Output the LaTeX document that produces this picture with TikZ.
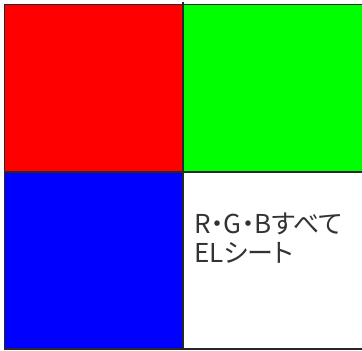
\documentclass[tikz,border=0pt]{standalone}
\usepackage{fontspec}
\newfontfamily\jpfont[RawFeature=+palt]{Noto Sans CJK JP}
\definecolor{elred}{RGB}{255,0,0}
\definecolor{elgreen}{RGB}{0,255,0}
\definecolor{elblue}{RGB}{0,0,255}
\definecolor{edge}{RGB}{40,40,40}
\tikzset{
  cell/.style={draw=edge, line width=1.4pt},
  label/.style={anchor=base west, inner sep=0pt, font=\jpfont\fontsize{26}{30}\selectfont, text=black!80}
}
\begin{document}
\begin{tikzpicture}[x=1pt,y=-1pt]
\useasboundingbox (0,0) rectangle (362,351);
\fill[white] (0,0) rectangle (362,351);
\filldraw[cell, fill=elred] (4.5,4.5) rectangle (183,172);
\filldraw[cell, fill=elgreen] (183,4.5) rectangle (364,172);
\filldraw[cell, fill=elblue] (4.5,172) rectangle (183,349);
\filldraw[cell, fill=white] (183,172) rectangle (364,349);
\draw[cell] (183,2) -- (183,5);
\node[label] (l1) at (194,233) {R・G・Bすべて};
\node[label] (l2) at (194,262.5) {ELシート};
\end{tikzpicture}
\end{document}
